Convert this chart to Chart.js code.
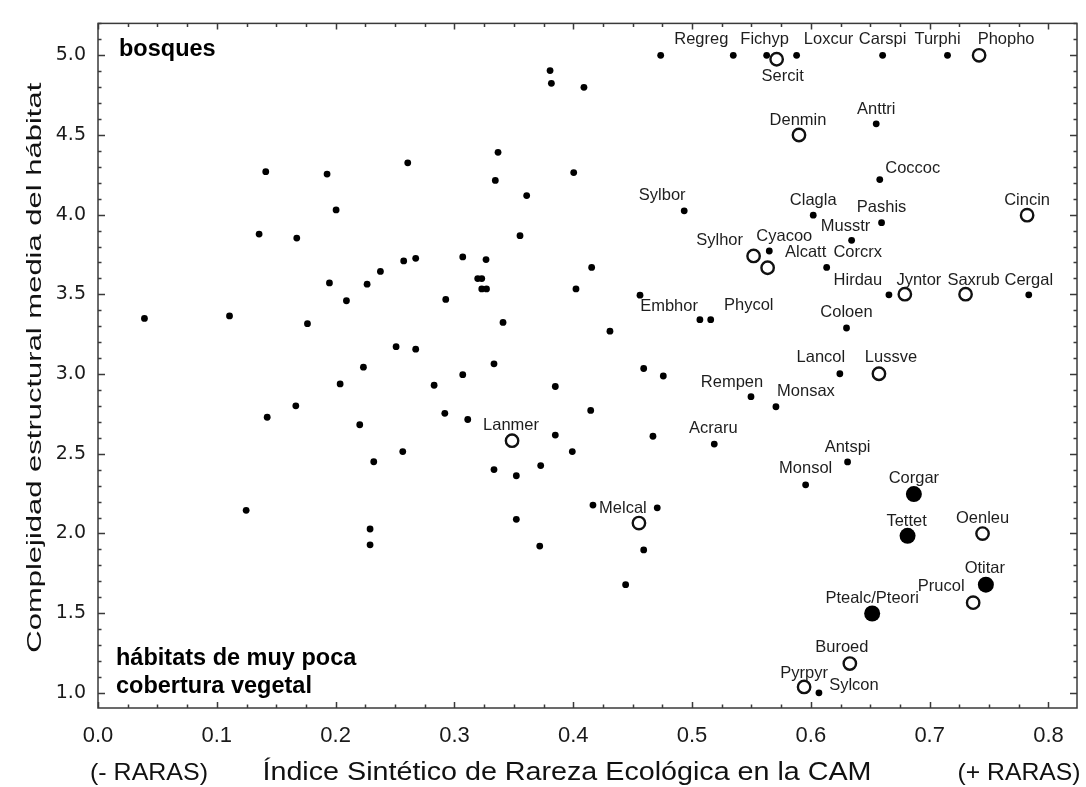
<!DOCTYPE html>
<html>
<head>
<meta charset="utf-8">
<title>Complejidad estructural y rareza ecológica</title>
<script src="https://cdn.jsdelivr.net/npm/chart.js@4.4.0/dist/chart.umd.min.js"></script>
<style>
  html, body { margin: 0; padding: 0; background: #fff; }
  #wrap { width: 1086px; height: 787px; }
</style>
</head>
<body>
<div id="wrap"><canvas id="chart" width="1086" height="787"></canvas></div>
<script>
// small black dots
var dotX = [0.4736, 0.5347, 0.5628, 0.588, 0.6604, 0.715,
    0.3805, 0.3816, 0.409, 0.655, 0.3367, 0.2607, 0.1412, 0.1928, 0.4004, 0.3344,
    0.3608, 0.658, 0.2004, 0.4934, 0.602, 0.6595, 0.1356, 0.1673, 0.3552, 0.6343,
    0.565, 0.2573, 0.2674, 0.307, 0.3266, 0.4155, 0.6133, 0.2377, 0.3196, 0.323,
    0.1948, 0.2265, 0.323, 0.327, 0.4023, 0.6657, 0.7834, 0.4562, 0.2927, 0.2091,
    0.1107, 0.0391, 0.3409, 0.1763, 0.5066, 0.5157, 0.63, 0.4309, 0.2509, 0.2674,
    0.3333, 0.2234, 0.4593, 0.6244, 0.307, 0.4758, 0.2038, 0.2829, 0.3849, 0.5496,
    0.1665, 0.5706, 0.4147, 0.2919, 0.1424, 0.3112, 0.2203, 0.3849, 0.4671, 0.5187,
    0.2565, 0.3992, 0.6309, 0.2321, 0.3726, 0.3333, 0.3521, 0.5956, 0.4166, 0.4707,
    0.1247, 0.3521, 0.229, 0.229, 0.3718, 0.4593, 0.4441, 0.6068];
var dotY = [5.0, 5.0, 5.0, 5.0, 5.0, 5.0,
    4.904, 4.824, 4.799, 4.57, 4.391, 4.325, 4.27, 4.255, 4.264, 4.215,
    4.12, 4.22, 4.03, 4.024, 3.997, 3.95, 3.878, 3.853, 3.868, 3.839,
    3.772, 3.71, 3.726, 3.735, 3.718, 3.669, 3.669, 3.644, 3.599, 3.599,
    3.572, 3.564, 3.534, 3.534, 3.534, 3.497, 3.497, 3.495, 3.468, 3.46,
    3.365, 3.349, 3.324, 3.316, 3.341, 3.341, 3.289, 3.269, 3.172, 3.156,
    3.064, 3.043, 3.035, 3.002, 2.996, 2.988, 2.938, 2.93, 2.922, 2.858,
    2.801, 2.795, 2.772, 2.754, 2.729, 2.715, 2.682, 2.617, 2.61, 2.561,
    2.514, 2.514, 2.449, 2.45, 2.426, 2.401, 2.362, 2.305, 2.178, 2.161,
    2.145, 2.089, 2.028, 1.929, 1.921, 1.897, 1.679, 1.0];
var dotNames = ['', 'Regreg', 'Fichyp', 'Loxcur', 'Carspi', 'Turphi',
    '', '', '', 'Anttri', '', '', '', '', '', '',
    '', 'Coccoc', '', 'Sylbor', 'Clagla', 'Pashis', '', '', '', 'Musstr',
    'Cyacoo', '', '', '', '', '', 'Corcrx', '', '', '',
    '', '', '', '', '', 'Hirdau', 'Cergal', 'Embhor', '', '',
    '', '', '', '', '', 'Phycol', 'Coloen', '', '', '',
    '', '', '', 'Lancol', '', '', '', '', '', 'Rempen',
    '', 'Monsax', '', '', '', '', '', '', '', 'Acraru',
    '', '', 'Antspi', '', '', '', '', 'Monsol', '', '',
    '', '', '', '', '', '', '', 'Sylcon'];

// open circles
var openX = [0.5712, 0.7416, 0.59, 0.782, 0.5518, 0.5636, 0.6791, 0.7302,
    0.6573, 0.3485, 0.4553, 0.7445, 0.7366, 0.6328, 0.5943];
var openY = [4.975, 5.0, 4.5, 3.997, 3.741, 3.667, 3.501, 3.501,
    3.002, 2.582, 2.065, 1.999, 1.566, 1.184, 1.037];
var openNames = ['Sercit', 'Phopho', 'Denmin', 'Cincin', 'Sylhor', 'Alcatt', 'Jyntor', 'Saxrub',
    'Lussve', 'Lanmer', 'Melcal', 'Oenleu', 'Prucol', 'Buroed', 'Pyrpyr'];

// large filled circles
var bigX = [0.6867, 0.6814, 0.7473, 0.6516];
var bigY = [2.247, 1.985, 1.679, 1.498];
var bigNames = ['Corgar', 'Tettet', 'Otitar', 'Ptealc/Pteori'];

var xTicks = [0.0, 0.1, 0.2, 0.3, 0.4, 0.5, 0.6, 0.7, 0.8];
var yTicks = [1.0, 1.5, 2.0, 2.5, 3.0, 3.5, 4.0, 4.5, 5.0];

var xTitle = 'Índice Sintético de Rareza Ecológica en la CAM';
var yTitle = 'Complejidad estructural media del hábitat';
var lowNote = '(- RARAS)';
var highNote = '(+ RARAS)';
var topNote = ['bosques'];
var bottomNote = ['hábitats de muy poca', 'cobertura vegetal'];

// where each name sits relative to its marker (px)
var labelOffset = {
    Regreg: [-32, -16], Fichyp: [-2, -16], Loxcur: [32, -16], Carspi: [0, -16],
    Turphi: [-10, -16], Phopho: [27, -16], Sercit: [6, 17], Denmin: [-1, -15],
    Anttri: [0, -14], Coccoc: [33, -11], Sylbor: [-22, -15], Clagla: [0, -15],
    Pashis: [0, -15], Musstr: [-6, -14], Cincin: [0, -15], Sylhor: [-34, -16],
    Cyacoo: [15, -15], Alcatt: [38, -15], Corcrx: [31, -15], Hirdau: [-31, -14],
    Jyntor: [14, -14], Saxrub: [8, -14], Cergal: [0, -14], Embhor: [29, 11],
    Phycol: [38, -14], Coloen: [0, -16], Lancol: [-19, -16], Lussve: [12, -16],
    Rempen: [-19, -14], Monsax: [30, -15], Acraru: [-1, -16], Lanmer: [-1, -15],
    Antspi: [0, -14], Monsol: [0, -16], Melcal: [-16, -15], Corgar: [0, -16],
    Tettet: [-1, -14], Oenleu: [0, -15], Otitar: [-1, -16], Prucol: [-32, -16],
    'Ptealc/Pteori': [0, -15], Buroed: [-8, -16], Pyrpyr: [0, -14], Sylcon: [35, -7]
};

var SANS = '"Liberation Sans", Arial, sans-serif';
var AXIS = '#3a3a3a';

function toPoints(xs, ys) {
    return xs.map(function (x, i) { return { x: x, y: ys[i] }; });
}

function fitText(ctx, text, x, y, width, angle) {
    ctx.save();
    ctx.translate(x, y);
    if (angle) {
        ctx.rotate(angle);
    }
    if (width) {
        var w = ctx.measureText(text).width;
        ctx.scale(width / w, 1);
    }
    ctx.fillText(text, 0, 0);
    ctx.restore();
}

// box round the plot with inward tick marks on all four sides
var framePlugin = {
    id: 'frame',
    beforeDatasetsDraw: function (chart) {
        var ctx = chart.ctx;
        var a = chart.chartArea;
        var xs = chart.scales.x;
        var ys = chart.scales.y;
        ctx.save();
        ctx.strokeStyle = AXIS;
        ctx.lineWidth = 1.5;
        ctx.strokeRect(a.left, a.top, a.right - a.left, a.bottom - a.top);
        ctx.beginPath();
        var k, v, p, len;
        for (k = 0; k * 0.025 <= xs.max + 1e-9; k++) {
            v = k * 0.025;
            p = Math.round(xs.getPixelForValue(v)) + 0.5;
            len = (k % 4 === 0) ? 6 : 3.5;
            ctx.moveTo(p, a.bottom); ctx.lineTo(p, a.bottom - len);
            ctx.moveTo(p, a.top); ctx.lineTo(p, a.top + len);
        }
        for (k = 9; k * 0.1 <= ys.max + 1e-9; k++) {
            v = k * 0.1;
            if (v < ys.min) continue;
            p = Math.round(ys.getPixelForValue(v)) + 0.5;
            len = (k % 5 === 0) ? 7 : 3.5;
            ctx.moveTo(a.left, p); ctx.lineTo(a.left + len, p);
            ctx.moveTo(a.right, p); ctx.lineTo(a.right - len, p);
        }
        ctx.stroke();
        ctx.restore();
    },
    afterDatasetsDraw: function (chart) {
        var ctx = chart.ctx;
        var a = chart.chartArea;
        ctx.save();
        // species codes
        ctx.fillStyle = '#1e1e1e';
        ctx.font = '16.5px ' + SANS;
        ctx.textAlign = 'center';
        ctx.textBaseline = 'middle';
        chart.data.datasets.forEach(function (ds, di) {
            var meta = chart.getDatasetMeta(di);
            ds.names.forEach(function (name, i) {
                if (!name) return;
                var el = meta.data[i];
                var off = labelOffset[name] || [0, -15];
                ctx.fillText(name, el.x + off[0], el.y + off[1]);
            });
        });
        // corner notes
        ctx.fillStyle = '#000';
        ctx.font = 'bold 23.5px ' + SANS;
        ctx.textAlign = 'left';
        ctx.textBaseline = 'alphabetic';
        topNote.forEach(function (t, i) {
            ctx.fillText(t, a.left + 21, a.top + 33 + i * 28);
        });
        bottomNote.forEach(function (t, i) {
            ctx.fillText(t, a.left + 18, a.bottom - 43 + i * 28);
        });
        // axis titles
        ctx.fillStyle = '#111';
        ctx.textAlign = 'center';
        ctx.textBaseline = 'middle';
        ctx.font = '26px ' + SANS;
        fitText(ctx, xTitle, 567, 773, 609);
        ctx.font = '24px ' + SANS;
        fitText(ctx, lowNote, 149, 773, 118);
        fitText(ctx, highNote, 1019, 773, 123);
        ctx.font = '21px ' + SANS;
        fitText(ctx, yTitle, 35, (a.top + a.bottom) / 2 + 2, 570, -Math.PI / 2);
        ctx.restore();
    }
};

new Chart(document.getElementById('chart'), {
    type: 'scatter',
    data: {
        datasets: [{
            label: 'especies',
            names: dotNames,
            data: toPoints(dotX, dotY),
            pointRadius: 3.4,
            pointBackgroundColor: '#000',
            pointBorderWidth: 0
        }, {
            label: 'especies (círculo abierto)',
            names: openNames,
            data: toPoints(openX, openY),
            pointRadius: 6.2,
            pointBackgroundColor: '#fff',
            pointBorderColor: '#111',
            pointBorderWidth: 2.4
        }, {
            label: 'especies (círculo lleno)',
            names: bigNames,
            data: toPoints(bigX, bigY),
            pointRadius: 8,
            pointBackgroundColor: '#000',
            pointBorderWidth: 0
        }]
    },
    options: {
        responsive: false,
        animation: false,
        layout: { padding: { left: 0, right: 9, top: 10, bottom: 0 } },
        plugins: {
            legend: { display: false },
            tooltip: { enabled: false }
        },
        scales: {
            x: {
                type: 'linear',
                min: 0,
                max: 0.824,
                grid: { display: false, drawTicks: false },
                border: { display: false },
                afterBuildTicks: function (s) {
                    s.ticks = xTicks.map(function (v) { return { value: v }; });
                },
                afterFit: function (s) { s.height = 79; },
                ticks: {
                    autoSkip: false,
                    maxRotation: 0,
                    padding: 15,
                    color: '#1a1a1a',
                    font: { family: SANS, size: 22 },
                    callback: function (v) { return Number(v).toFixed(1); }
                }
            },
            y: {
                type: 'linear',
                min: 0.905,
                max: 5.2,
                grid: { display: false, drawTicks: false },
                border: { display: false },
                afterBuildTicks: function (s) {
                    s.ticks = yTicks.map(function (v) { return { value: v }; });
                },
                afterFit: function (s) { s.width = 98; },
                ticks: {
                    autoSkip: false,
                    padding: 12,
                    color: '#1a1a1a',
                    font: { family: '"DejaVu Sans", Verdana, sans-serif', size: 19 },
                    callback: function (v) { return Number(v).toFixed(1); }
                }
            }
        }
    },
    plugins: [framePlugin]
});
</script>
</body>
</html>
